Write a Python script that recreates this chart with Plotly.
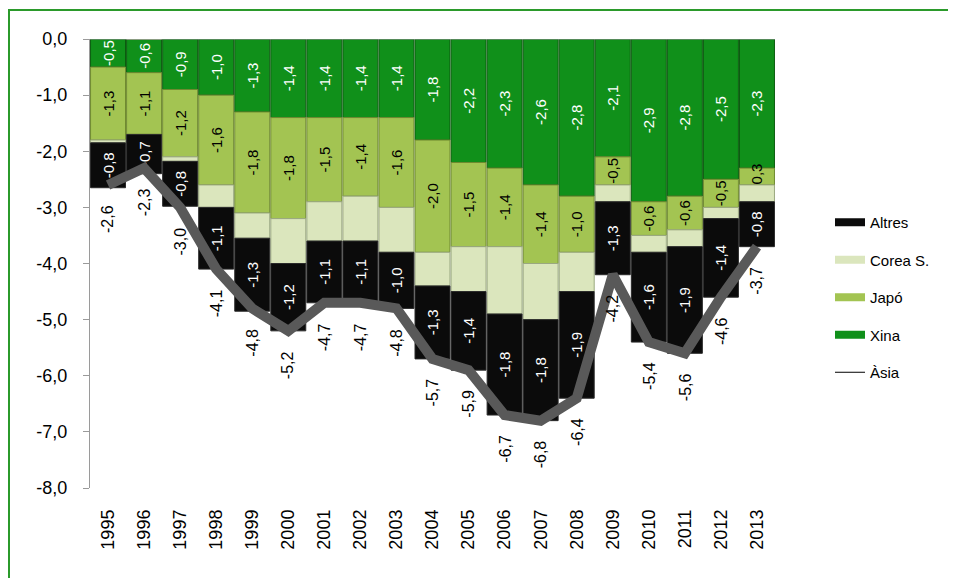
import plotly.graph_objects as go

years = [str(y) for y in range(1995, 2014)]
xina = [-0.5, -0.6, -0.9, -1.0, -1.3, -1.4, -1.4, -1.4, -1.4, -1.8, -2.2, -2.3, -2.6, -2.8, -2.1, -2.9, -2.8, -2.5, -2.3]
japo = [-1.3, -1.1, -1.2, -1.6, -1.8, -1.8, -1.5, -1.4, -1.6, -2.0, -1.5, -1.4, -1.4, -1.0, -0.5, -0.6, -0.6, -0.5, -0.3]
corea = [-0.05, -0.0, -0.08, -0.4, -0.45, -0.8, -0.7, -0.8, -0.8, -0.6, -0.8, -1.2, -1.0, -0.7, -0.3, -0.3, -0.3, -0.2, -0.3]
altres = [-0.8, -0.7, -0.8, -1.1, -1.3, -1.2, -1.1, -1.1, -1.0, -1.3, -1.4, -1.8, -1.8, -1.9, -1.3, -1.6, -1.9, -1.4, -0.8]
asia = [-2.6, -2.3, -3.0, -4.1, -4.8, -5.2, -4.7, -4.7, -4.8, -5.7, -5.9, -6.7, -6.8, -6.4, -4.2, -5.4, -5.6, -4.6, -3.7]
ytick_vals = [0, -1, -2, -3, -4, -5, -6, -7, -8]


def fmt(v):
    return f"{v:.1f}".replace(".", ",")


FONT = "Liberation Sans"
W, H = 948, 570
L, R, T, B = 82, 181, 31, 90

fig = go.Figure()

series = [
    ("Xina", xina, "#10901a", "#0a5c0e", "white", 4, True),
    ("Japó", japo, "#a3c452", "#6f8a30", "black", 3, True),
    ("Corea S.", corea, "#dbe6bd", "#9aa880", "black", 2, False),
    ("Altres", altres, "#0b0b0b", "#2a2a2a", "white", 1, True),
]
for name, vals, col, lcol, tcol, rank, lab in series:
    fig.add_trace(go.Bar(
        x=years, y=vals, name=name,
        marker=dict(color=col, line=dict(color=lcol, width=1)),
        text=[fmt(v) for v in vals] if lab else None,
        textposition="inside" if lab else "none",
        insidetextanchor="middle",
        textangle=-90,
        constraintext="none",
        textfont=dict(color=tcol, size=15, family=FONT),
        showlegend=False,
        hoverinfo="skip",
    ))
    fig.add_trace(go.Scatter(
        x=[years[0]], y=[None], mode="lines", name=name,
        line=dict(color=col, width=8), legendrank=rank, legendgroup=name,
        hoverinfo="skip",
    ))

fig.add_trace(go.Scatter(
    x=years, y=asia, mode="lines", name="Àsia",
    line=dict(color="#595959", width=10), showlegend=False,
    hoverinfo="skip",
))
fig.add_trace(go.Scatter(
    x=[years[0]], y=[None], mode="lines", name="Àsia",
    line=dict(color="black", width=1), legendrank=5, legendgroup="asia",
    hoverinfo="skip",
))

annotations = []
for i, v in enumerate(asia):
    annotations.append(dict(
        x=i, y=v, xref="x", yref="y", text=fmt(v), showarrow=False,
        textangle=-90, yanchor="top", xanchor="center", yshift=-18,
        font=dict(size=16, color="black", family=FONT),
    ))

pw = W - L - R
ph = H - T - B
shapes = [
    dict(type="line", xref="paper", yref="y", x0=0, x1=1, y0=0, y1=0,
         line=dict(color="#a0a0a0", width=1)),
    dict(type="line", xref="paper", yref="paper",
         x0=(0 - L) / pw, x1=(W + 5 - L) / pw, y0=(H - B - 2) / ph, y1=(H - B - 2) / ph,
         line=dict(color="#2b9a2b", width=2)),
    dict(type="line", xref="paper", yref="paper",
         x0=(1 - L) / pw, x1=(1 - L) / pw, y0=(H - B - 2) / ph, y1=(-B - 5) / ph,
         line=dict(color="#2b9a2b", width=2)),
]

fig.update_layout(
    width=W, height=H,
    margin=dict(l=L, r=R, t=T, b=B),
    barmode="relative", bargap=0.03,
    paper_bgcolor="white", plot_bgcolor="white",
    font=dict(family=FONT, size=15, color="black"),
    showlegend=True,
    legend=dict(
        x=(822 - L) / pw, xanchor="left",
        y=(H - B - 198) / ph, yanchor="top",
        font=dict(size=15, family=FONT),
        tracegroupgap=15,
        bgcolor="rgba(0,0,0,0)",
    ),
    annotations=annotations,
    shapes=shapes,
    xaxis=dict(
        type="category", categoryorder="array", categoryarray=years,
        range=[-0.5, len(years) - 0.5], autorange=False,
        tickangle=-90, showgrid=False, showline=False,
        ticks="", ticklabelstandoff=17, tickfont=dict(size=18, family=FONT),
        zeroline=False,
    ),
    yaxis=dict(
        range=[-8, 0], autorange=False, tickvals=ytick_vals, ticktext=[fmt(v) for v in ytick_vals],
        showgrid=False, showline=True, linecolor="#9a9a9a", linewidth=1,
        ticks="outside", ticklen=6, tickcolor="#9a9a9a",
        tickfont=dict(size=18, family=FONT), zeroline=False, ticklabelstandoff=12,
    ),
)

fig.write_html("out.html")
